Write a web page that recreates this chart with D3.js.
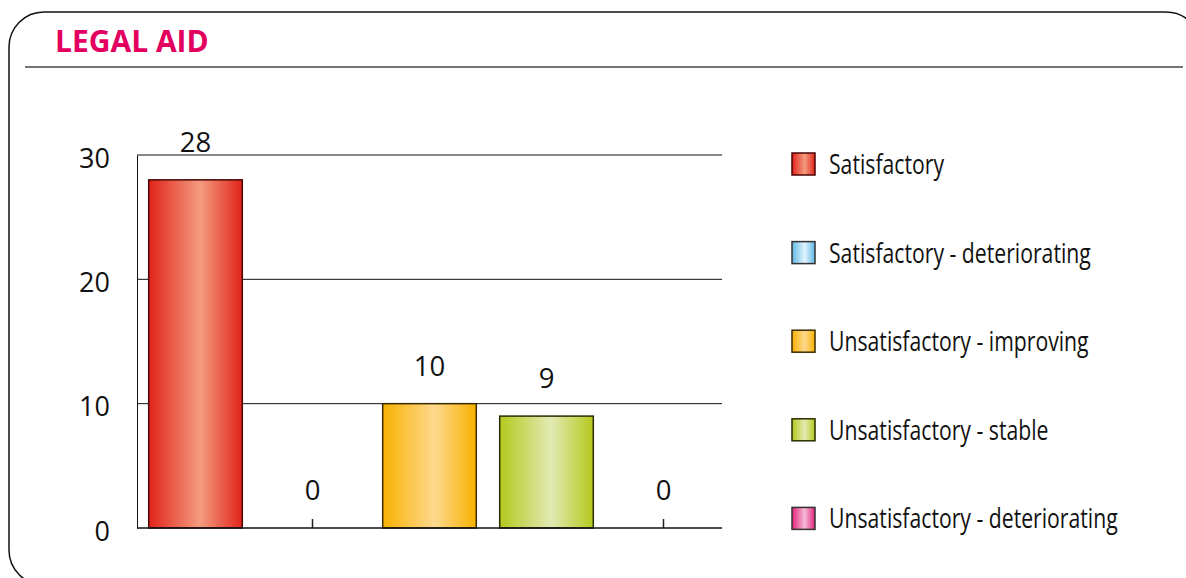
<!DOCTYPE html>
<html>
<head>
<meta charset="utf-8">
<script src="https://cdn.jsdelivr.net/npm/d3@7"></script>
<style>
  html, body { margin: 0; padding: 0; background: #fff; }
  svg { display: block; }
</style>
</head>
<body>
<svg id="chart" width="1186" height="578"></svg>
<script>
const title = "LEGAL AID";
const categories = ["Satisfactory", "Satisfactory - deteriorating", "Unsatisfactory - improving", "Unsatisfactory - stable", "Unsatisfactory - deteriorating"];
const values = [28, 0, 10, 9, 0];
const yTicks = [0, 10, 20, 30];
const edgeColors = ["#e2231a", "#5fb9e6", "#f8b100", "#b3c91c", "#e3247c"];
const midColors = ["#f39c80", "#e2f3fc", "#fed98e", "#e2eab4", "#f5bad5"];
const strokeColors = ["#4a0505", "#333333", "#3a2a00", "#2a2a00", "#333333"];

const svg = d3.select("#chart");
const numFont = "'Open Sans', 'Noto Sans', sans-serif";
const condFont = "'Open Sans', 'Noto Sans', sans-serif";

// gradients
const defs = svg.append("defs");
categories.forEach((c, i) => {
  const g = defs.append("linearGradient").attr("id", "grad" + i)
    .attr("x1", "0%").attr("x2", "100%").attr("y1", "0%").attr("y2", "0%");
  g.append("stop").attr("offset", "0%").attr("stop-color", edgeColors[i]);
  g.append("stop").attr("offset", "55%").attr("stop-color", midColors[i]);
  g.append("stop").attr("offset", "100%").attr("stop-color", edgeColors[i]);
});

// frame
svg.append("rect").attr("x", 9).attr("y", 12).attr("width", 1192).attr("height", 573)
  .attr("rx", 35).attr("ry", 35).attr("fill", "none").attr("stroke", "#111").attr("stroke-width", 1.5);

// title
svg.append("text").attr("x", 55).attr("y", 52).text(title)
  .attr("font-family", numFont).attr("font-weight", 700).attr("font-size", 30)
  .attr("fill", "#e4005f");

svg.append("line").attr("x1", 25).attr("x2", 1183).attr("y1", 67).attr("y2", 67)
  .attr("stroke", "#444").attr("stroke-width", 1.5);

// scales
const plotL = 137, plotR = 722, plotT = 155, plotB = 528;
const x = d3.scaleBand().domain(categories).range([plotL, plotR]).paddingInner(0.2).paddingOuter(0.1);
const y = d3.scaleLinear().domain([0, 30]).range([plotB, plotT]);

// gridlines
svg.append("g").selectAll("line").data(yTicks.filter(t => t > 0)).join("line")
  .attr("x1", plotL).attr("x2", plotR)
  .attr("y1", d => y(d)).attr("y2", d => y(d))
  .attr("stroke", "#111").attr("stroke-width", 1);

// y axis
const yAxis = svg.append("g").attr("transform", `translate(${plotL},0)`)
  .call(d3.axisLeft(y).tickValues(yTicks).tickSize(0).tickPadding(27));
yAxis.select(".domain").attr("stroke", "#111").attr("stroke-width", 1);
yAxis.selectAll("text").attr("font-family", numFont).attr("font-size", 27)
  .attr("fill", "#111").attr("dy", "0.45em");

// x axis ticks (inward)
const xAxis = svg.append("g").attr("transform", `translate(0,${plotB})`)
  .call(d3.axisBottom(x).tickSize(-9).tickFormat(""));
xAxis.select(".domain").remove();
xAxis.selectAll(".tick line").attr("stroke", "#222").attr("stroke-width", 1.5);

// bars
svg.append("g").selectAll("rect").data(values).join("rect")
  .attr("x", (d, i) => x(categories[i]))
  .attr("width", x.bandwidth())
  .attr("y", d => y(d))
  .attr("height", d => plotB - y(d))
  .attr("fill", (d, i) => `url(#grad${i})`)
  .attr("stroke", (d, i) => d === 0 ? "#777" : strokeColors[i])
  .attr("stroke-width", 1.5);

// baseline
svg.append("line").attr("x1", plotL).attr("x2", plotR).attr("y1", plotB).attr("y2", plotB)
  .attr("stroke", "#111").attr("stroke-width", 1.5);

// value labels
svg.append("g").selectAll("text").data(values).join("text")
  .attr("x", (d, i) => x(categories[i]) + x.bandwidth() / 2)
  .attr("y", d => y(d) - 28)
  .attr("text-anchor", "middle")
  .attr("font-family", numFont).attr("font-size", 27.5).attr("fill", "#111")
  .text(d => d);

// legend
const leg = svg.append("g").selectAll("g").data(categories).join("g")
  .attr("transform", (d, i) => `translate(792, ${164 + i * 88.6})`);
leg.append("rect").attr("x", 0).attr("y", -11).attr("width", 23).attr("height", 22)
  .attr("fill", (d, i) => `url(#grad${i})`)
  .attr("stroke", (d, i) => strokeColors[i]).attr("stroke-width", 1.5);
leg.append("text").attr("transform", "translate(37,10) scale(0.757,1)")
  .attr("font-family", condFont).attr("font-size", 28).attr("fill", "#111")
  .text(d => d);
</script>
</body>
</html>
